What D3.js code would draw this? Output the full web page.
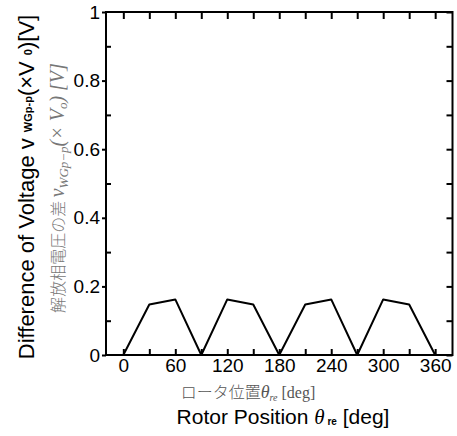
<!DOCTYPE html>
<html>
<head>
<meta charset="utf-8">
<script src="https://cdn.jsdelivr.net/npm/d3@7"></script>
<style>
  body { margin: 0; background: #fff; }
  svg { display: block; }
  .axis path { display: none; }
  .axis line { stroke: #000; stroke-width: 2; }
  .axis text { font-family: Arial, "Liberation Sans", sans-serif; font-size: 19px; fill: #000; }
</style>
</head>
<body>
<svg id="chart" width="457" height="436"></svg>
<script>
// rotor position [deg] and voltage difference (x V0)
var theta = [0, 30, 60, 90, 120, 150, 180, 210, 240, 270, 300, 330, 360];
var dV    = [0, 0.147, 0.162, 0, 0.162, 0.147, 0, 0.147, 0.162, 0, 0.162, 0.147, 0];
var xLabelTicks = [0, 60, 120, 180, 240, 300, 360];
var xMinorTicks = [0, 30, 60, 90, 120, 150, 180, 210, 240, 270, 300, 330, 360];
var yLabelTicks = [0, 0.2, 0.4, 0.6, 0.8, 1];
var yMinorTicks = [0.1, 0.3, 0.5, 0.7, 0.9];
var yAllTicks = [0, 0.1, 0.2, 0.3, 0.4, 0.5, 0.6, 0.7, 0.8, 0.9, 1];

var svg = d3.select("#chart");
var plotL = 106, plotR = 452.5, plotT = 12, plotB = 355;

var x = d3.scaleLinear().domain([-20, 380]).range([plotL, plotR]);
var y = d3.scaleLinear().domain([0, 1]).range([plotB, plotT]);

// frame
svg.append("rect")
   .attr("x", plotL).attr("y", plotT)
   .attr("width", plotR - plotL).attr("height", plotB - plotT)
   .attr("fill", "none").attr("stroke", "#000").attr("stroke-width", 2);

// bottom
svg.append("g").attr("class", "axis")
   .attr("transform", "translate(0," + plotB + ")")
   .call(d3.axisBottom(x).tickValues(xMinorTicks).tickSize(-6).tickFormat(""));
svg.append("g").attr("class", "axis")
   .attr("transform", "translate(0," + plotB + ")")
   .call(d3.axisBottom(x).tickValues(xLabelTicks).tickSize(0).tickPadding(4).tickFormat(d3.format("d")));

// top
svg.append("g").attr("class", "axis")
   .attr("transform", "translate(0," + plotT + ")")
   .call(d3.axisTop(x).tickValues(xMinorTicks).tickSize(-7).tickFormat(""));

// left
svg.append("g").attr("class", "axis")
   .attr("transform", "translate(" + plotL + ",0)")
   .call(d3.axisLeft(y).tickValues(yLabelTicks).tickSize(4).tickPadding(2)
     .tickFormat(function(d){ return d == 0 || d == 1 ? d3.format("d")(d) : d3.format(".1f")(d); }));
svg.append("g").attr("class", "axis")
   .attr("transform", "translate(" + plotL + ",0)")
   .call(d3.axisLeft(y).tickValues(yMinorTicks).tickSize(-5).tickFormat(""));

// right
svg.append("g").attr("class", "axis")
   .attr("transform", "translate(" + plotR + ",0)")
   .call(d3.axisRight(y).tickValues(yAllTicks).tickSize(-6).tickFormat(""));

// data line
var line = d3.line()
   .x(function(d, i){ return x(theta[i]); })
   .y(function(d){ return y(d); });

svg.append("path")
   .attr("d", line(dV))
   .attr("fill", "none")
   .attr("stroke", "#000")
   .attr("stroke-width", 2)
   .attr("stroke-linejoin", "round");

// y titles
var t1 = svg.append("text")
   .attr("transform", "translate(34,187) rotate(-90)")
   .attr("text-anchor", "middle")
   .attr("font-family", "Arial, 'Liberation Sans', sans-serif")
   .attr("font-size", 22)
   .attr("fill", "#000");
t1.append("tspan").text("Difference of Voltage v ");
t1.append("tspan").attr("font-size", 11).attr("font-weight", "bold").attr("dy", -2).text("WGp-p");
t1.append("tspan").attr("dy", 2).text("(×V ");
t1.append("tspan").attr("font-size", 11).attr("font-weight", "bold").attr("dy", -2).text("0");
t1.append("tspan").attr("dy", 2).text(")[V]");

var t2 = svg.append("text")
   .attr("transform", "translate(64,188) rotate(-90)")
   .attr("text-anchor", "middle")
   .attr("font-family", "'Liberation Serif', 'DejaVu Serif', serif")
   .attr("font-size", 20)
   .attr("fill", "#777");
t2.append("tspan").attr("font-family", "'Noto Sans CJK JP', sans-serif").attr("font-weight", 300).attr("font-size", 16).text("解放相電圧の差 ");
t2.append("tspan").attr("font-style", "italic").text("v");
t2.append("tspan").attr("font-style", "italic").attr("font-size", 13).attr("dy", 4).text("WGp−p");
t2.append("tspan").attr("font-style", "italic").attr("dy", -4).text("(× V");
t2.append("tspan").attr("font-style", "italic").attr("font-size", 13).attr("dy", 3).text("o");
t2.append("tspan").attr("font-style", "italic").attr("dy", -3).text(") [V]");

// x titles
var t3 = svg.append("text")
   .attr("x", 248).attr("y", 398)
   .attr("text-anchor", "middle")
   .attr("font-family", "'Liberation Serif', 'DejaVu Serif', serif")
   .attr("font-size", 16)
   .attr("fill", "#555");
t3.append("tspan").attr("font-family", "'Noto Sans CJK JP', sans-serif").attr("font-weight", 300).text("ロータ位置");
t3.append("tspan").attr("font-style", "italic").attr("font-size", 18).text("θ");
t3.append("tspan").attr("font-style", "italic").attr("font-size", 10).attr("dy", 3).text("re");
t3.append("tspan").attr("dy", -3).text(" [deg]");

var t4 = svg.append("text")
   .attr("x", 283).attr("y", 424)
   .attr("text-anchor", "middle")
   .attr("font-family", "Arial, 'Liberation Sans', sans-serif")
   .attr("font-size", 21)
   .attr("fill", "#000");
t4.append("tspan").text("Rotor Position ");
t4.append("tspan").attr("font-style", "italic").attr("font-family", "'Liberation Serif', serif").text("θ");
t4.append("tspan").attr("font-size", 10).attr("font-weight", "bold").attr("dy", 1).text(" re");
t4.append("tspan").attr("dy", -1).text("  [deg]");
</script>
</body>
</html>
